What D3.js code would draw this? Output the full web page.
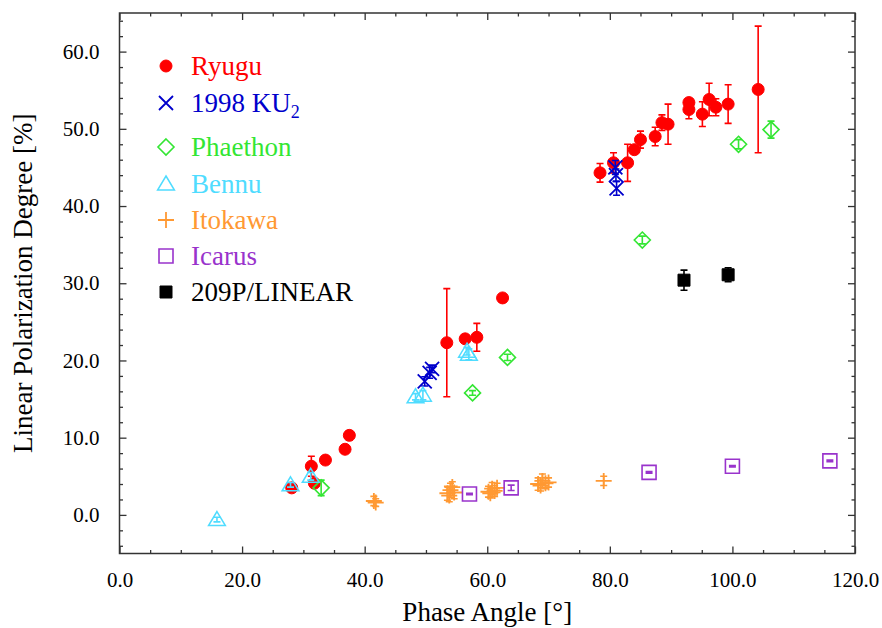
<!DOCTYPE html>
<html>
<head>
<meta charset="utf-8">
<script src="https://cdn.jsdelivr.net/npm/d3@7"></script>
<style>
  body { margin: 0; background: #fff; }
</style>
</head>
<body>
<main></main>
<script>
// values
const ryuguX = [28.1, 31.3, 31.8, 33.6, 36.8, 37.5, 53.4, 56.4, 58.3, 62.5, 78.4, 80.6, 82.9, 84.0, 85.0, 87.4, 88.5, 89.5, 92.9, 92.9, 95.1, 96.2, 97.3, 99.3, 104.2];
const ryuguY = [3.5, 6.3, 4.1, 7.1, 8.5, 10.3, 22.3, 22.8, 23.0, 28.1, 44.3, 45.6, 45.6, 47.3, 48.6, 49.0, 50.8, 50.6, 53.4, 52.5, 51.9, 53.8, 52.8, 53.2, 55.1];
const ryuguErr = [0, 1.3, 0, 0, 0, 0.6, 7.0, 0, 1.8, 0, 1.2, 1.3, 2.4, 0.5, 1.1, 1.2, 1.0, 2.6, 0.5, 1.2, 1.6, 2.1, 1.1, 2.5, 8.2];

const kuX = [49.8, 50.6, 51.0, 80.9, 81.0, 81.1];
const kuY = [17.3, 18.4, 18.9, 45.0, 44.0, 42.3];
const kuErr = [0.6, 0.7, 0.5, 0.9, 0.8, 0.9];

const phaethonX = [32.9, 57.6, 63.3, 85.3, 101.0, 106.3];
const phaethonY = [3.5, 15.8, 20.4, 35.6, 48.0, 49.9];
const phaethonErr = [1.0, 0.3, 0.4, 0.5, 0.6, 1.1];

const bennuX = [15.9, 27.9, 31.2, 48.3, 49.5, 56.7, 57.0];
const bennuY = [-0.6, 3.9, 5.0, 15.3, 15.5, 21.2, 20.8];
const bennuErr = [0.3, 0.3, 0.5, 0.4, 0.6, 0.5, 0.7];

const itokawaX = [41.5, 41.8, 53.5, 53.8, 54.0, 54.3, 54.6, 60.2, 60.5, 60.8, 61.2, 61.6, 68.3, 68.7, 69.0, 69.5, 70.0, 79.0];
const itokawaY = [1.8, 1.6, 2.8, 2.5, 3.2, 3.6, 2.9, 3.0, 2.8, 3.4, 3.1, 3.5, 4.0, 3.8, 4.4, 4.1, 4.2, 4.4];
const itokawaErr = [0.6, 0.5, 0.9, 0.8, 0.9, 0.7, 0.8, 0.7, 0.6, 0.8, 0.7, 0.6, 0.8, 0.7, 0.9, 0.7, 0.6, 0.6];

const icarusX = [57.1, 63.9, 86.4, 100.0, 115.9];
const icarusY = [2.7, 3.5, 5.5, 6.3, 7.0];
const icarusErr = [0.1, 0.35, 0.1, 0.1, 0.1];

const linearX = [92.1, 99.3];
const linearY = [30.4, 31.1];
const linearErr = [1.3, 0.9];

const legendNames = ["Ryugu", "1998 KU", "Phaethon", "Bennu", "Itokawa", "Icarus", "209P/LINEAR"];
const xTicks = [0, 20, 40, 60, 80, 100, 120];
const yTicks = [0, 10, 20, 30, 40, 50, 60];

const svgSize = { width: 882, height: 628 };
const frame = { left: 119.5, right: 855, top: 13, bottom: 553.5 };
const serif = "Liberation Serif";

const svg = d3.select("main").append("svg")
  .attr("width", svgSize.width)
  .attr("height", svgSize.height);

const xScale = d3.scaleLinear().domain([0, 120]).range([frame.left, frame.right]);
const yScale = d3.scaleLinear().domain([-5, 65]).range([frame.bottom, frame.top]);

// marker shapes, pixel sizes
const shapes = {
  circle: r => `M${-r},0A${r},${r} 0 1,0 ${r},0A${r},${r} 0 1,0 ${-r},0Z`,
  cross: r => `M${-r},${-r}L${r},${r}M${-r},${r}L${r},${-r}`,
  diamond: r => `M0,${-r}L${r},0L0,${r}L${-r},0Z`,
  triangle: r => `M0,${-r}L${r * 1.05},${r * 0.75}L${-r * 1.05},${r * 0.75}Z`,
  plus: r => `M${-r},0L${r},0M0,${-r}L0,${r}`,
  square: r => `M${-r},${-r}H${r}V${r}H${-r}Z`
};

const series = [
  { x: ryuguX, y: ryuguY, err: ryuguErr, color: "#ff0000", shape: "circle", r: 6, fill: true, sw: 1 },
  { x: kuX, y: kuY, err: kuErr, color: "#0000cc", shape: "cross", r: 7, fill: false, sw: 1.8 },
  { x: phaethonX, y: phaethonY, err: phaethonErr, color: "#33e633", shape: "diamond", r: 8, fill: false, sw: 1.6 },
  { x: bennuX, y: bennuY, err: bennuErr, color: "#4fdcff", shape: "triangle", r: 8, fill: false, sw: 1.5 },
  { x: itokawaX, y: itokawaY, err: itokawaErr, color: "#ff9933", shape: "plus", r: 8, fill: false, sw: 1.8 },
  { x: icarusX, y: icarusY, err: icarusErr, color: "#9933cc", shape: "square", r: 7, fill: false, sw: 1.6 },
  { x: linearX, y: linearY, err: linearErr, color: "#000000", shape: "square", r: 6, fill: true, sw: 1 }
];

const textColors = ["#ff0000", "#0000cc", "#33e633", "#4fdcff", "#ff9933", "#9933cc", "#000000"];

// axes (ticks point inward on all four sides)
const axisColor = "#333";
const drawAxis = (axis, tx, ty) => {
  const g = svg.append("g").attr("transform", `translate(${tx},${ty})`).call(axis);
  g.select(".domain").remove();
  g.selectAll("line").attr("stroke", axisColor).attr("stroke-width", 1.3);
  g.attr("font-family", serif).attr("font-size", 21);
  g.selectAll("text").attr("fill", "#000");
  return g;
};

const xMinor = d3.range(0, 121, 5).filter(v => v % 20 !== 0);
const yMinor = d3.range(-4, 65, 2).filter(v => v % 10 !== 0);

drawAxis(d3.axisBottom(xScale).tickValues(xTicks).tickSize(-7).tickPadding(19).tickFormat(d3.format(".1f")), 0, frame.bottom);
drawAxis(d3.axisBottom(xScale).tickValues(xMinor).tickSize(-3.5).tickFormat(""), 0, frame.bottom);
drawAxis(d3.axisTop(xScale).tickValues(xTicks).tickSize(-7).tickFormat(""), 0, frame.top);
drawAxis(d3.axisTop(xScale).tickValues(xMinor).tickSize(-3.5).tickFormat(""), 0, frame.top);
drawAxis(d3.axisLeft(yScale).tickValues(yTicks).tickSize(-7).tickPadding(20).tickFormat(d3.format(".1f")), frame.left, 0);
drawAxis(d3.axisLeft(yScale).tickValues(yMinor).tickSize(-3.5).tickFormat(""), frame.left, 0);
drawAxis(d3.axisRight(yScale).tickValues(yTicks).tickSize(-7).tickFormat(""), frame.right, 0);
drawAxis(d3.axisRight(yScale).tickValues(yMinor).tickSize(-3.5).tickFormat(""), frame.right, 0);

svg.append("rect")
  .attr("x", frame.left).attr("y", frame.top)
  .attr("width", frame.right - frame.left).attr("height", frame.bottom - frame.top)
  .attr("fill", "none").attr("stroke", axisColor).attr("stroke-width", 1.5);

// axis titles
svg.append("text")
  .attr("x", (frame.left + frame.right) / 2).attr("y", 621)
  .attr("text-anchor", "middle").attr("font-family", serif).attr("font-size", 27)
  .text("Phase Angle [°]");

svg.append("text")
  .attr("transform", `translate(32,${(frame.top + frame.bottom) / 2}) rotate(-90)`)
  .attr("text-anchor", "middle").attr("font-family", serif).attr("font-size", 27)
  .text("Linear Polarization Degree [%]");

// data
series.forEach(s => {
  const g = svg.append("g");
  const pts = s.x.map((v, i) => ({ x: v, y: s.y[i], e: s.err[i] }));
  const eb = pts.filter(d => d.e > 0);
  g.selectAll(".eb").data(eb).enter().append("path")
    .attr("d", d => {
      const cx = xScale(d.x), y1 = yScale(d.y + d.e), y2 = yScale(d.y - d.e);
      return `M${cx},${y1}V${y2}M${cx - 3.5},${y1}H${cx + 3.5}M${cx - 3.5},${y2}H${cx + 3.5}`;
    })
    .attr("fill", "none").attr("stroke", s.color).attr("stroke-width", 1.6);
  g.selectAll(".pt").data(pts).enter().append("path")
    .attr("transform", d => `translate(${xScale(d.x)},${yScale(d.y)})`)
    .attr("d", shapes[s.shape](s.r))
    .attr("fill", s.fill ? s.color : "none")
    .attr("stroke", s.color).attr("stroke-width", s.sw);
});

// legend
const legendY = [66, 103, 147, 184, 220, 256, 292];
series.forEach((s, i) => {
  svg.append("path")
    .attr("transform", `translate(166,${legendY[i]})`)
    .attr("d", shapes[s.shape](s.r))
    .attr("fill", s.fill ? s.color : "none")
    .attr("stroke", s.color).attr("stroke-width", s.sw);
  const t = svg.append("text")
    .attr("x", 191).attr("y", legendY[i] + 9)
    .attr("font-family", serif).attr("font-size", 27).attr("fill", textColors[i])
    .text(legendNames[i]);
  if (i === 1) {
    t.append("tspan").attr("dy", 6).attr("font-size", 18).text("2");
  }
});
</script>
</body>
</html>
